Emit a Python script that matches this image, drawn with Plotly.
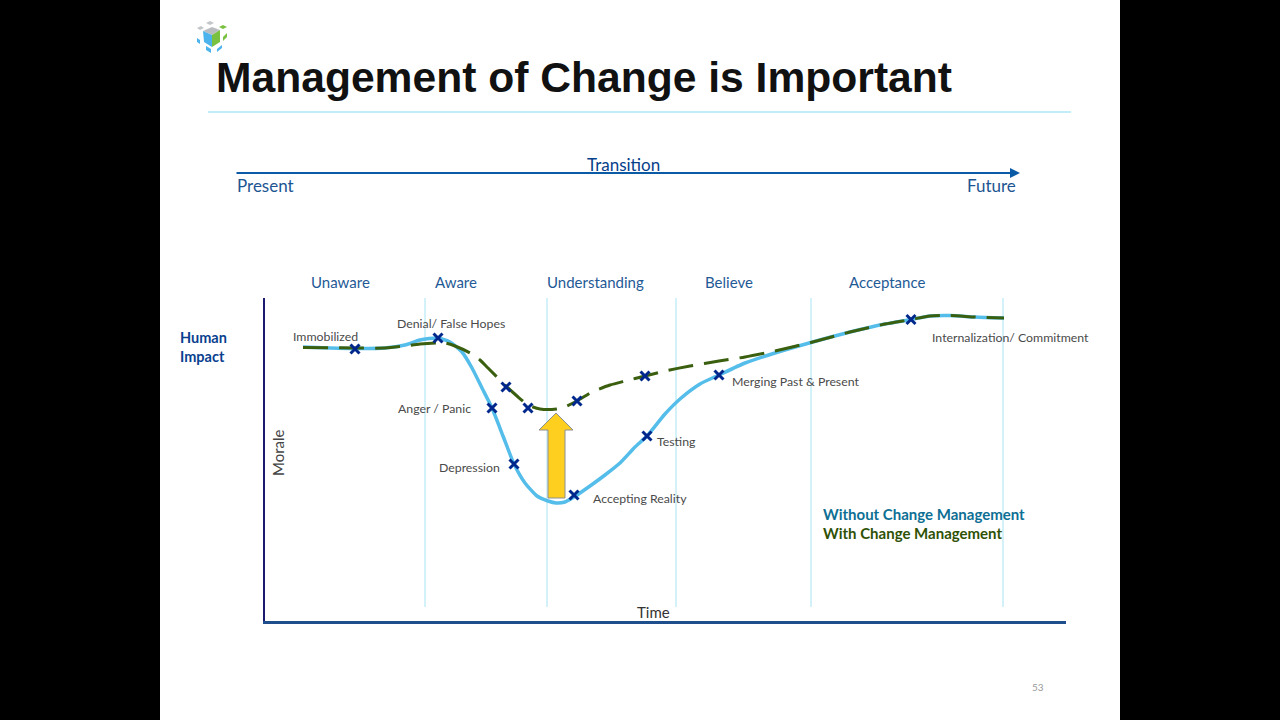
#!/usr/bin/env python3
"""Slide: change curve with and without change management."""
import plotly.graph_objects as go

W, H = 1280, 720

# the curves, x = time, y = morale (chart units, origin at the axis corner)
blue_time = [39, 66, 91, 121, 141, 156, 174, 186, 198, 208, 218, 228, 239, 250, 261, 273, 284, 292, 301, 310,
             326, 341, 356, 371, 383, 401, 416, 436, 455, 481, 511, 547, 586, 621, 647, 666, 686, 711, 740]
blue_morale = [275, 274, 273.5, 274, 277, 282, 284, 280, 270, 254, 234, 214, 186, 158, 139, 126, 121, 119, 120, 125,
               136, 147, 159, 175, 186, 208, 223, 238, 247, 259, 269, 279.5, 290, 298, 302.5, 306, 306.5, 305, 304]
green_time = [39, 91, 121, 141, 156, 181, 191, 206, 216, 224, 242, 253, 264, 276, 288, 298, 313, 328, 346, 361,
              381, 401, 426, 455, 481, 511, 547, 586, 621, 647, 666, 686, 711, 740]
green_morale = [274.5, 274, 274, 276, 278, 279, 276, 269, 262, 254, 236, 226, 217, 213, 212.5, 214, 221, 230, 237, 241,
                246, 251, 256, 261, 265, 271, 279.5, 290, 298, 302.5, 306, 306.5, 305, 304]
mark_time = [91, 174, 242, 228, 264, 250, 310, 313, 381, 383, 455, 647]
mark_morale = [273, 284, 235, 214, 214, 158, 127, 221, 246, 186, 247, 302.5]
phase_lines = [161, 283, 412, 547, 739]

# slide texts: label, x px, y px
stages = [("Unaware", 340), ("Aware", 456), ("Understanding", 595), ("Believe", 729), ("Acceptance", 887)]
point_labels = [
    ("Immobilized", 293, 336), ("Denial/ False Hopes", 397, 323), ("Anger / Panic", 398, 408),
    ("Depression", 439, 467), ("Accepting Reality", 593, 498), ("Testing", 657, 441),
    ("Merging Past &amp; Present", 732, 381), ("Internalization/ Commitment", 932, 337),
]

NAVY = "#00288c"
fig = go.Figure()

fig.add_trace(go.Scatter(x=blue_time, y=blue_morale, mode="lines", name="Without Change Management",
                         line=dict(color="#55bdea", width=3.5, shape="spline", smoothing=0.6)))
fig.add_trace(go.Scatter(x=green_time, y=green_morale, mode="lines", name="With Change Management",
                         line=dict(color="#3a5f0f", width=3, shape="spline", smoothing=0.6, dash="25px,11px")))
fig.add_trace(go.Scatter(x=mark_time, y=mark_morale, mode="markers", name="Stages",
                         marker=dict(symbol="x-thin", size=9, line=dict(width=3, color=NAVY))))
# empty trace so the full-page x2/y2 axes exist
fig.add_trace(go.Scatter(x=[], y=[], xaxis="x2", yaxis="y2", hoverinfo="skip"))

shapes = []


def px_shape(**kw):
    # decoration placed in slide pixels through the full-page x2/y2 axes
    shapes.append(dict(xref="x2", yref="y2", **kw))


def poly(points, fill, line=None, layer="above"):
    path = "M" + " L".join(f"{x},{y}" for x, y in points) + " Z"
    px_shape(type="path", path=path, fillcolor=fill, layer=layer,
             line=dict(color=line or fill, width=1 if line else 0))


# black bars either side of the slide
px_shape(type="rect", x0=0, x1=160, y0=0, y1=720, fillcolor="black", line_width=0, layer="below")
px_shape(type="rect", x0=1120, x1=1280, y0=0, y1=720, fillcolor="black", line_width=0, layer="below")
# rule under title
px_shape(type="line", x0=208, x1=1071, y0=112, y1=112, line=dict(color="#84deee", width=1.2), layer="below")

# logo
poly([(203, 31), (212, 27), (220, 30), (212, 35)], "#b9bdc1")
poly([(203, 31), (212, 35), (212, 47), (204, 42)], "#4db3ec")
poly([(212, 35), (220, 30), (220, 42), (212, 47)], "#7ac142")
poly([(206, 23), (210, 21), (214, 23), (210, 25)], "#c3c6c9")
poly([(197, 28), (201, 26), (204, 28), (200, 30)], "#c3c6c9")
poly([(219, 27), (223, 25), (227, 27), (223, 29)], "#7ac142")
poly([(223, 37), (227, 33), (227, 37), (223, 41)], "#7ac142")
poly([(197, 38), (200, 40), (200, 44), (197, 42)], "#4db3ec")
poly([(206, 46), (211, 49), (211, 53), (206, 50)], "#4db3ec")
poly([(217, 49), (222, 45), (222, 48), (217, 52)], "#4db3ec")

# vertical phase lines, full height of the chart down to y=15
for t in phase_lines:
    shapes.append(dict(type="line", xref="x", yref="y", x0=t, x1=t, y0=15, y1=324,
                       line=dict(color="#a6e4f4", width=1), layer="below"))

# yellow arrow
poly([(556, 413), (573, 430), (565, 430), (565, 498), (548, 498), (548, 430), (539, 430)], "#ffcf1f", "#8f8f8f")

annotations = []


def label(text, x, y, size=12.3, color="#4a4a4a", anchor="left", font="Lato", **kw):
    annotations.append(dict(text=text, x=x, y=y, xref="x2", yref="y2", xanchor=anchor, yanchor="middle",
                            showarrow=False, borderpad=0, borderwidth=0,
                            font=dict(family=font, size=size, color=color), **kw))


label("<b>Management of Change is Important</b>", 216, 77, size=42.6, color="#111111", font="Liberation Sans")
label("Transition", 623.5, 164, size=17, color="#07408a", anchor="center")
label("Present", 237, 185, size=17, color="#1d5592")
label("Future", 1016, 185, size=17, color="#1d5592", anchor="right")
for name, x in stages:
    label(name, x, 282, size=15, color="#1f5a96", anchor="center")
label("<b>Human</b>", 180, 337, size=14.5, color="#0a3f8f")
label("<b>Impact</b>", 180, 356, size=14.5, color="#0a3f8f")
label("Morale", 278, 453, size=15, color="#444444", anchor="center", textangle=-90)
label("Time", 653.5, 612, size=15, color="#333333", anchor="center")
for name, x, y in point_labels:
    label(name, x, y)
label("<b>Without Change Management</b>", 823, 514, size=15, color="#0e6f94")
label("<b>With Change Management</b>", 823, 533, size=15, color="#2f5106")
label("53", 1038, 687, size=10, color="#9a9a9a", anchor="center")

# present to future arrow
annotations.append(dict(x=1020, y=173, ax=235, ay=173, xref="x2", yref="y2", axref="x2", ayref="y2", text="",
                        showarrow=True, arrowhead=2, arrowsize=1, arrowwidth=2, arrowcolor="#0b5aa5"))

fig.update_layout(
    width=W, height=H, margin=dict(l=0, r=0, t=0, b=0),
    paper_bgcolor="white", plot_bgcolor="rgba(0,0,0,0)",
    showlegend=False, hovermode="closest",
    shapes=shapes, annotations=annotations,
    xaxis=dict(domain=[265 / W, 1066 / W], range=[1, 802], showgrid=False, zeroline=False, showticklabels=False,
               ticks="", showline=True, linecolor="#1f4e8c", linewidth=3),
    yaxis=dict(domain=[1 - 620.5 / H, 1 - 298 / H], range=[1.5, 324], showgrid=False, zeroline=False,
               showticklabels=False, ticks="", showline=True, linecolor="#1a1a6e", linewidth=2),
    xaxis2=dict(domain=[0, 1], range=[0, W], visible=False, anchor="y2"),
    yaxis2=dict(domain=[0, 1], range=[H, 0], visible=False, anchor="x2"),
)

fig.write_html("out.html", config={"displayModeBar": False}, post_script="document.body.style.margin='0';")
